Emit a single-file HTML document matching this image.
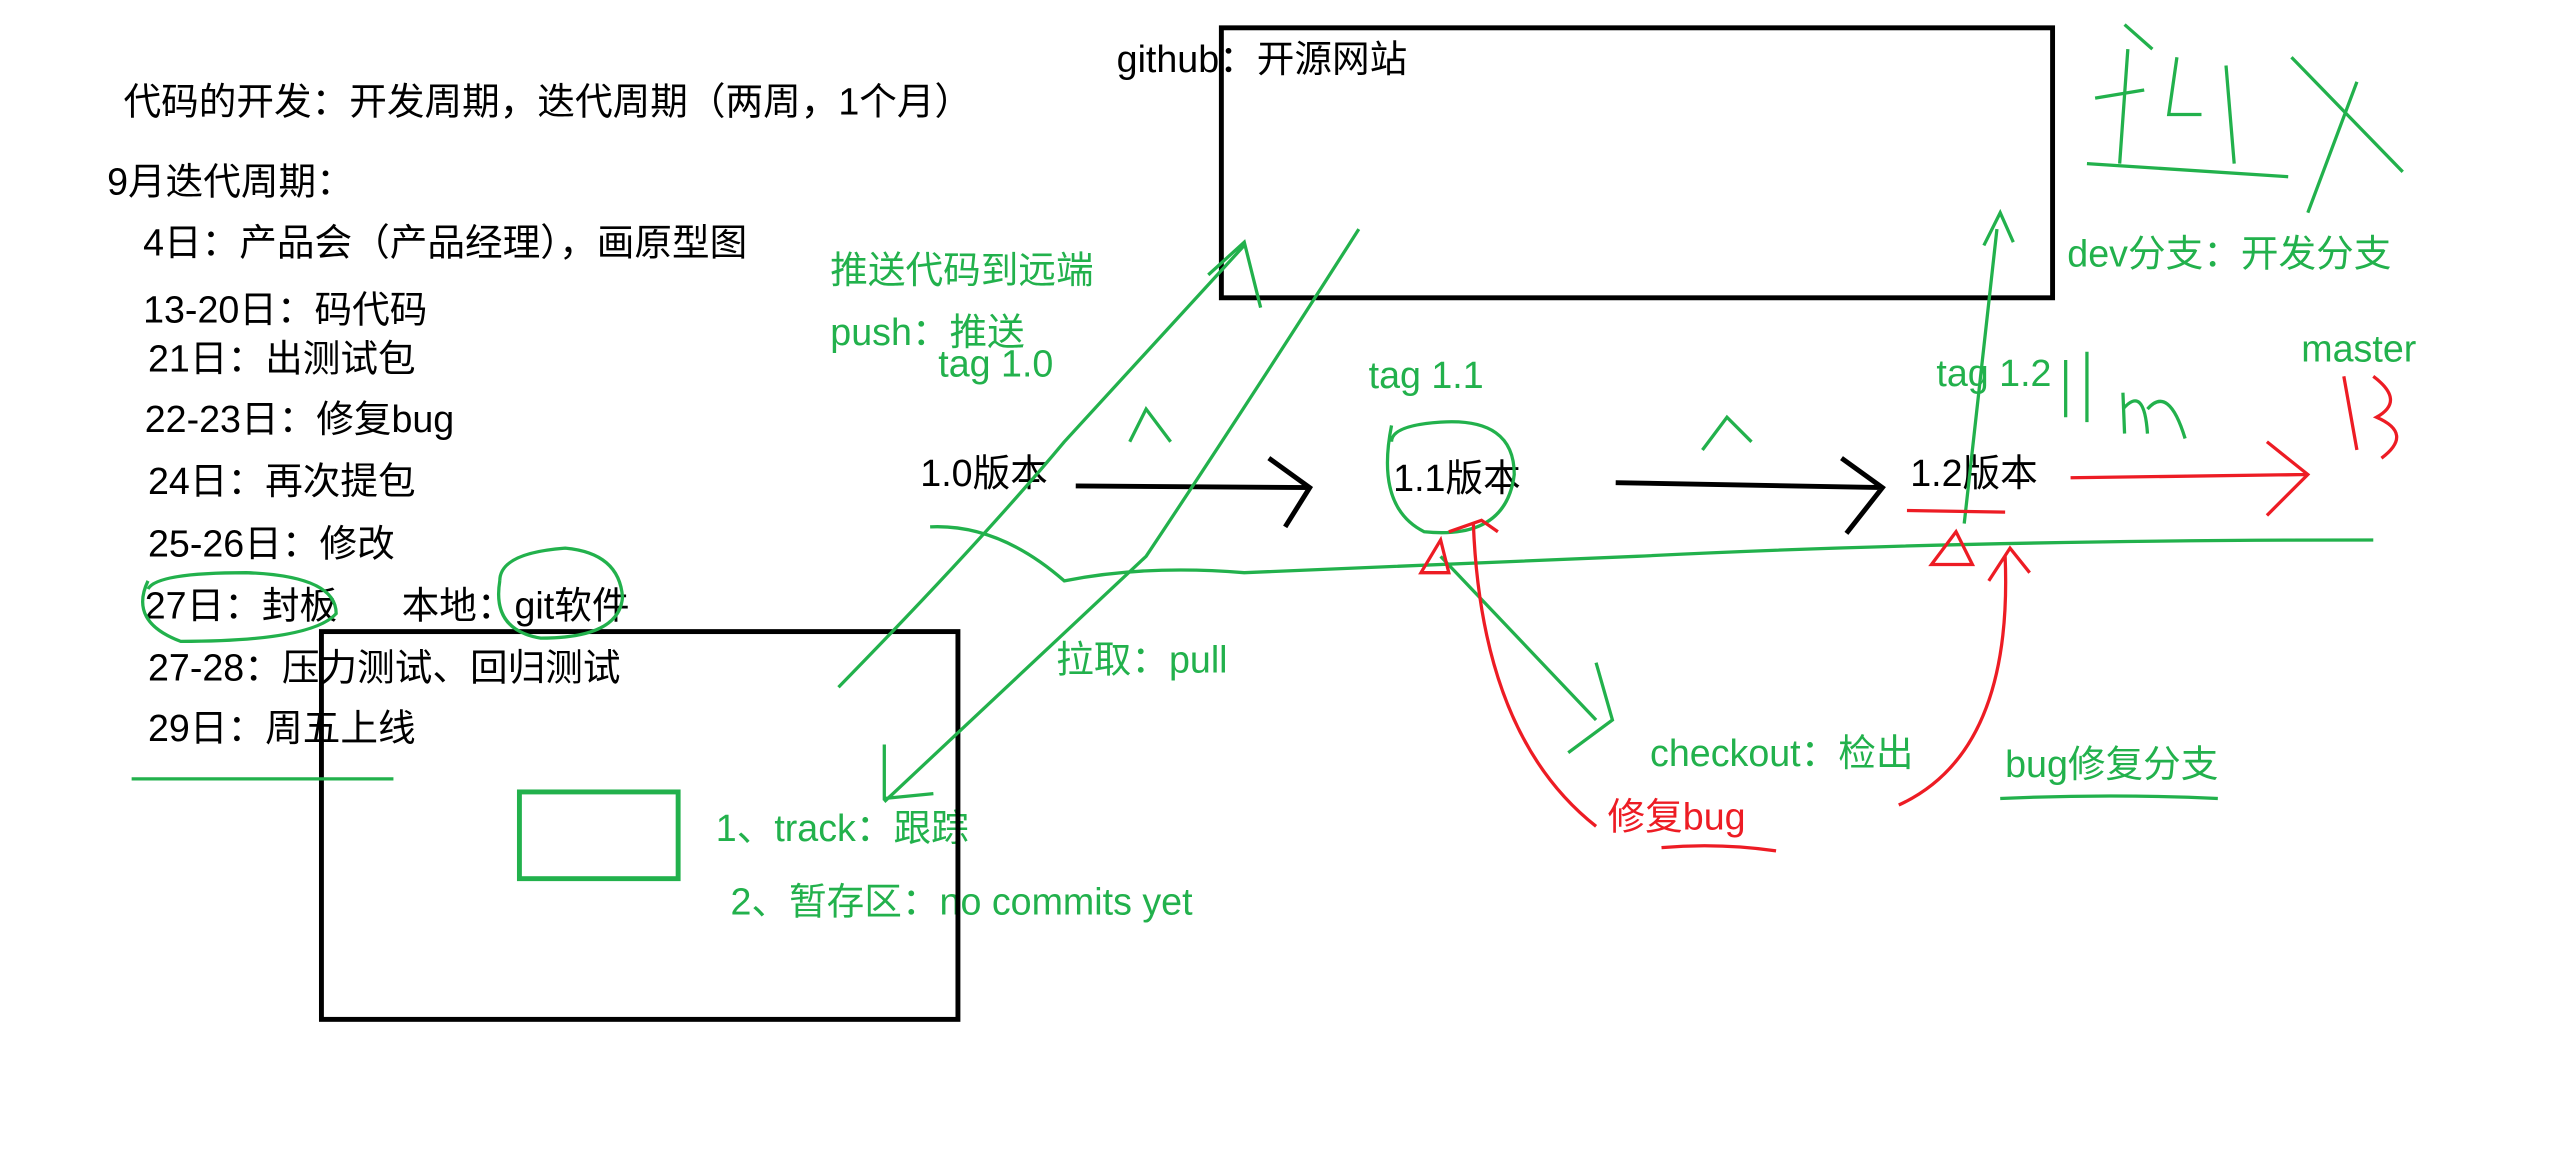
<!DOCTYPE html>
<html><head><meta charset="utf-8"><style>
html,body{margin:0;padding:0;background:#fff;}
svg{display:block}
text{font-family:"Liberation Sans","Noto Sans CJK SC",sans-serif;font-size:23px}
.g{fill:#22b14c}.r{fill:#ed1c24}.k{fill:#000}
</style></head><body>
<svg width="2554" height="1165" viewBox="0 0 1560 712" xmlns="http://www.w3.org/2000/svg">
<rect width="1560" height="712" fill="#fff"/>
<g class="k">
<text x="75" y="70">代码的开发：开发周期，迭代周期（两周，1个月）</text>
<text x="65" y="119">9月迭代周期：</text>
<text x="87" y="156">4日：产品会（产品经理），画原型图</text>
<text x="87" y="197">13-20日：码代码</text>
<text x="90" y="227">21日：出测试包</text>
<text x="88" y="264">22-23日：修复bug</text>
<text x="90" y="302">24日：再次提包</text>
<text x="90" y="340">25-26日：修改</text>
<text x="88" y="378">27日：封板</text>
<text x="245" y="378">本地：git软件</text>
<text x="90" y="416">27-28：压力测试、回归测试</text>
<text x="90" y="453">29日：周五上线</text>
<text x="682" y="44">github：开源网站</text>
<text x="562" y="297">1.0版本</text>
<text x="851" y="300">1.1版本</text>
<text x="1167" y="297">1.2版本</text>
</g>
<g class="g">
<text x="437" y="514">1、track：跟踪</text>
<text x="446" y="559">2、暂存区：no commits yet</text>
<text x="507" y="173">推送代码到远端</text>
<text x="507" y="211">push：推送</text>
<text x="573" y="230">tag 1.0</text>
<text x="836" y="237">tag 1.1</text>
<text x="1183" y="236">tag 1.2</text>
<text x="1406" y="221">master</text>
<text x="1263" y="163">dev分支：开发分支</text>
<text x="645" y="411">拉取：pull</text>
<text x="1008" y="468">checkout：检出</text>
<text x="1225" y="475">bug修复分支</text>
</g>
<text class="r" x="982" y="507">修复bug</text>
<g fill="none" stroke="#000" stroke-width="3">
<rect x="196" y="386" width="389" height="237"/>
<rect x="746" y="17" width="508" height="165"/>
<path d="M657 297 L800 298 M775 280 L800 298 L785 322"/>
<path d="M987 295 L1150 298 M1125 280 L1150 298 L1128 326"/>
</g>
<g fill="none" stroke="#22b14c" stroke-width="2">
<rect x="317" y="484" width="97" height="53" stroke-width="3"/>
<path d="M80 476 L240 476"/>
<path d="M568 322 Q610 320 650 355 Q700 345 760 350 L1000 340 Q1200 330 1450 330"/>
<path d="M850 260 Q840 310 870 325 Q920 330 925 290 Q925 255 880 258 Q850 260 850 270"/>
<path d="M90 355 Q78 380 110 392 Q190 392 205 375 Q205 352 150 350 Q95 350 90 360"/>
<path d="M305 355 Q300 385 330 390 Q378 390 380 365 Q378 338 345 335 Q305 338 305 355"/>
<path d="M512 420 Q600 330 650 270 L760 150 M738 168 L760 148 L770 188"/>
<path d="M830 140 Q760 250 700 340 L540 490 M540 455 L540 488 L570 485"/>
<path d="M1200 320 Q1210 230 1220 140 M1212 150 L1222 130 L1230 148"/>
<path d="M880 340 L975 440 M975 405 L985 440 L958 460"/>
<path d="M1222 488 Q1290 485 1355 488"/>
<path d="M690 270 L700 250 L715 270"/><path d="M1040 275 L1055 255 L1070 270"/>
<path d="M1262 220 L1262 255 M1275 215 L1275 258 M1297 240 L1298 265 M1297 250 Q1310 235 1312 265 M1312 250 Q1325 235 1335 268"/>
<path d="M1280 60 L1310 55 M1300 30 L1295 100 M1275 100 L1398 108 M1330 35 L1325 70 L1345 70 M1360 40 L1365 100 M1400 35 L1468 105 M1440 50 L1410 130 M1298 15 L1315 30"/>
</g>
<g fill="none" stroke="#ed1c24" stroke-width="2">
<path d="M1265 292 L1410 290 M1385 270 L1410 290 L1385 315"/>
<path d="M1165 312 L1225 313"/>
<path d="M1180 345 L1195 325 L1205 345 Z"/>
<path d="M868 350 L880 330 L885 350 Z"/>
<path d="M900 320 Q905 450 975 505 M885 325 L905 318 L915 325"/>
<path d="M1160 492 Q1230 460 1225 340 M1215 355 L1228 335 L1240 350"/>
<path d="M1015 518 Q1050 515 1085 520"/>
<path d="M1432 230 L1440 275 M1450 230 Q1470 245 1452 255 Q1475 265 1455 280"/>
</g>
</svg>
</body></html>
